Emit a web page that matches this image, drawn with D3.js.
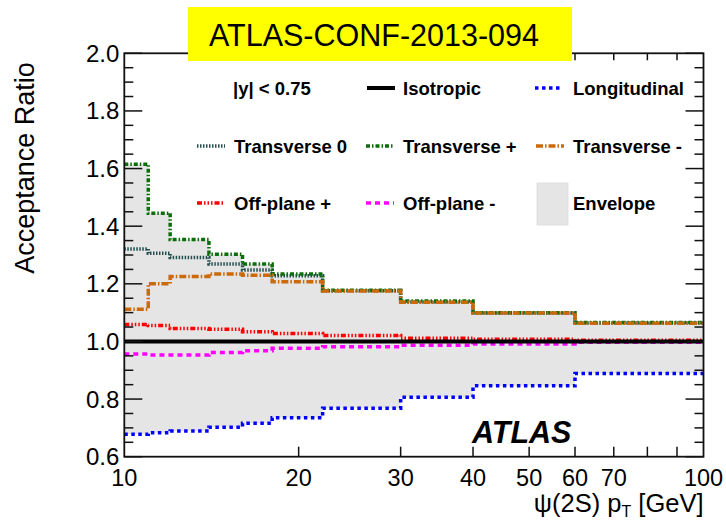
<!DOCTYPE html>
<html>
<head>
<meta charset="utf-8">
<script src="https://cdn.jsdelivr.net/npm/d3@7/dist/d3.min.js"></script>
<style>
  html, body { margin: 0; padding: 0; background: #fff; }
  svg { display: block; font-family: "Liberation Sans", Arial, Helvetica, sans-serif; }
</style>
</head>
<body>
<svg id="chart" width="726" height="522"></svg>
<script>
// Bin edges in pT [GeV] and acceptance ratio per bin for each spin-alignment hypothesis
const binEdges = [10, 11, 12, 14, 16, 18, 22, 30, 40, 60, 100];
const isotropic       = [1, 1, 1, 1, 1, 1, 1, 1, 1, 1];
const longitudinal    = [0.678, 0.683, 0.689, 0.702, 0.716, 0.735, 0.768, 0.806, 0.846, 0.889];
const transverse0     = [1.321, 1.306, 1.291, 1.269, 1.248, 1.228, 1.176, 1.137, 1.099, 1.064];
const transversePlus  = [1.615, 1.445, 1.354, 1.303, 1.269, 1.234, 1.178, 1.140, 1.100, 1.066];
const transverseMinus = [1.112, 1.200, 1.225, 1.234, 1.230, 1.207, 1.175, 1.136, 1.099, 1.063];
const offPlanePlus    = [1.059, 1.055, 1.045, 1.042, 1.034, 1.028, 1.021, 1.011, 1.008, 1.004];
const offPlaneMinus   = [0.956, 0.953, 0.953, 0.962, 0.968, 0.976, 0.982, 0.987, 0.991, 0.997];

const xTickValues = [20, 30, 40, 50, 60, 70, 80, 90];
const xTickLabels = [10, 20, 30, 40, 50, 60, 70, 100];
const yTickLabels = ["0.6", "0.8", "1.0", "1.2", "1.4", "1.6", "1.8", "2.0"];

const series = [
  { name: "Transverse 0", values: transverse0,     color: "#244f4f", dash: "1.5,1.5", width: 3.5 },
  { name: "Transverse +", values: transversePlus,  color: "#0b6e0b", dash: "4,2,1.5,2", width: 3.5 },
  { name: "Transverse -", values: transverseMinus, color: "#cc6a0a", dash: "7,2,1.5,2", width: 3.5 },
  { name: "Off-plane +",  values: offPlanePlus,    color: "#ff0000", dash: "5,2,1.5,2,1.5,2,1.5,2", width: 3.5 },
  { name: "Off-plane -",  values: offPlaneMinus,   color: "#ff00ff", dash: "5,4", width: 3.5 },
  { name: "Longitudinal", values: longitudinal,    color: "#0000ff", dash: "3.5,3.5", width: 3.5 },
  { name: "Isotropic",    values: isotropic,       color: "#000000", dash: null, width: 4 }
];

const svg = d3.select("#chart");
const frameL = 124.3, frameR = 703.5, frameT = 53.3, frameB = 456.7;

const x = d3.scaleLog().domain([10, 100]).range([frameL, frameR]);
const y = d3.scaleLinear().domain([0.6, 2.0]).range([frameB, frameT]);

// step points: one per bin lower edge, plus the last upper edge
function stepPoints(vals) {
  const pts = vals.map((v, i) => [binEdges[i], v]);
  pts.push([binEdges[binEdges.length - 1], vals[vals.length - 1]]);
  return pts;
}

// envelope = min/max over all hypotheses in each bin
const allSeries = series.map(s => s.values);
const envLow = binEdges.slice(0, -1).map((_, i) => d3.min(allSeries, a => a[i]));
const envHigh = binEdges.slice(0, -1).map((_, i) => d3.max(allSeries, a => a[i]));
const highPts = stepPoints(envHigh);
const envPts = stepPoints(envLow).map((p, i) => ({ x: p[0], lo: p[1], hi: highPts[i][1] }));

const plot = svg.append("g");
plot.append("path")
  .datum(envPts)
  .attr("fill", "#e5e5e5")
  .attr("d", d3.area().curve(d3.curveStepAfter)
    .x(d => x(d.x)).y0(d => y(d.lo)).y1(d => y(d.hi)));

const line = d3.line().curve(d3.curveStepAfter).x(d => x(d[0])).y(d => y(d[1]));
series.forEach(s => {
  plot.append("path")
    .datum(stepPoints(s.values))
    .attr("fill", "none")
    .attr("stroke", s.color)
    .attr("stroke-width", s.width)
    .attr("stroke-dasharray", s.dash)
    .attr("d", line);
});

// frame
svg.append("rect")
  .attr("x", frameL).attr("y", frameT)
  .attr("width", frameR - frameL).attr("height", frameB - frameT)
  .attr("fill", "none").attr("stroke", "#111").attr("stroke-width", 1.8);

// y ticks (left and right, pointing inward)
const tickG = svg.append("g").attr("stroke", "#111").attr("stroke-width", 1.5);
d3.range(0, 29).forEach(k => {
  const v = 0.6 + k * 0.05;
  const major = k % 4 === 0;
  const len = major ? 18 : 9;
  tickG.append("line").attr("x1", frameL).attr("x2", frameL + len).attr("y1", y(v)).attr("y2", y(v));
  tickG.append("line").attr("x1", frameR).attr("x2", frameR - len).attr("y1", y(v)).attr("y2", y(v));
});
// x ticks (bottom and top, pointing inward)
xTickValues.forEach(v => {
  tickG.append("line").attr("x1", x(v)).attr("x2", x(v)).attr("y1", frameB).attr("y2", frameB - 10);
  tickG.append("line").attr("x1", x(v)).attr("x2", x(v)).attr("y1", frameT).attr("y2", frameT + 7);
});

// y tick labels
svg.append("g").selectAll("text").data(yTickLabels).join("text")
  .attr("x", frameL - 5).attr("y", d => y(+d) + 8.5)
  .attr("text-anchor", "end").attr("font-size", 24).attr("fill", "#000")
  .text(d => d);

// x tick labels
svg.append("g").selectAll("text").data(xTickLabels).join("text")
  .attr("x", d => x(d)).attr("y", 486)
  .attr("text-anchor", "middle").attr("font-size", 23.5).attr("fill", "#000")
  .text(d => d);

// axis titles
svg.append("text")
  .attr("transform", "translate(34,168) rotate(-90)")
  .attr("text-anchor", "middle").attr("font-size", 27)
  .text("Acceptance Ratio");

const xt = svg.append("text").attr("x", frameR).attr("y", 512)
  .attr("text-anchor", "end").attr("font-size", 25.5);
xt.append("tspan").text("ψ(2S) p");
xt.append("tspan").attr("font-size", 16).attr("dy", 5).text("T");
xt.append("tspan").attr("dy", -5).text(" [GeV]");

// ATLAS label
svg.append("text")
  .attr("x", 472).attr("y", 443)
  .attr("font-size", 30.5).attr("font-weight", "bold").attr("font-style", "italic")
  .text("ATLAS");

// legend
const legend = svg.append("g").attr("font-size", 18.5).attr("font-weight", "bold");
const legendItems = [
  { label: "Isotropic",    sx: 367, tx: 403, cy: 88 },
  { label: "Longitudinal", sx: 535, tx: 573, cy: 88 },
  { label: "Transverse 0", sx: 197, tx: 234, cy: 146 },
  { label: "Transverse +", sx: 366, tx: 403, cy: 146 },
  { label: "Transverse -", sx: 536, tx: 573, cy: 146 },
  { label: "Off-plane +",  sx: 197, tx: 234, cy: 203 },
  { label: "Off-plane -",  sx: 366, tx: 403, cy: 203 }
];
legend.append("text").attr("x", 233).attr("y", 88 + 6.5).text("|y| < 0.75");
legendItems.forEach(it => {
  const s = series.find(d => d.name === it.label);
  legend.append("line")
    .attr("x1", it.sx).attr("x2", it.sx + 28).attr("y1", it.cy).attr("y2", it.cy)
    .attr("stroke", s.color).attr("stroke-width", s.width)
    .attr("stroke-dasharray", s.dash);
  legend.append("text").attr("x", it.tx).attr("y", it.cy + 6.5).text(it.label);
});
legend.append("rect").attr("x", 537).attr("y", 183).attr("width", 31).attr("height", 42)
  .attr("fill", "#e5e5e5").attr("stroke", "#dcdcdc").attr("stroke-width", 0.8);
legend.append("text").attr("x", 573).attr("y", 203 + 6.5).text("Envelope");

// conference note banner
svg.append("rect").attr("x", 188).attr("y", 7).attr("width", 384).attr("height", 54)
  .attr("fill", "#ffff00");
svg.append("text").attr("x", 209).attr("y", 45.5)
  .attr("font-size", 30.5).attr("fill", "#000")
  .text("ATLAS-CONF-2013-094");
</script>
</body>
</html>
